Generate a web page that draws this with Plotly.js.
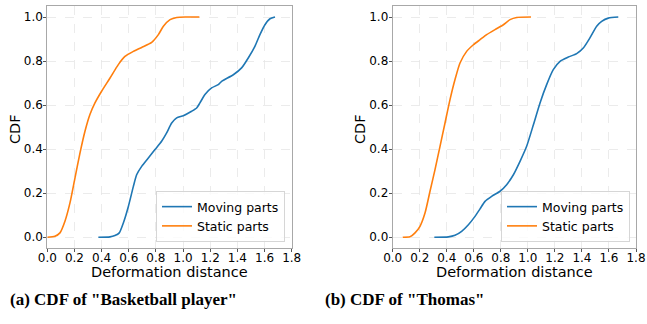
<!DOCTYPE html>
<html><head><meta charset="utf-8">
<script src="https://cdn.plot.ly/plotly-3.0.1.min.js"></script>
<style>html,body{margin:0;padding:0;background:#fff}#c{width:647px;height:324px}</style>
</head><body><div id="c"></div>
<script>
// (a) Basketball player
const aStaticX = [0,0.056,0.093,0.13,0.167,0.204,0.241,0.277,0.314,0.351,0.40,0.462,0.523,0.572,0.634,0.695,0.769,0.818,0.855,0.904,0.953,1.026,1.12];
const aStaticY = [0,0.005,0.02,0.073,0.156,0.27,0.383,0.48,0.557,0.61,0.663,0.723,0.784,0.821,0.844,0.862,0.885,0.92,0.958,0.988,0.998,1.0,1.0];
const aMovingX = [0.376,0.462,0.498,0.53,0.56,0.597,0.634,0.658,0.695,0.744,0.793,0.842,0.879,0.916,0.953,1.002,1.063,1.1,1.124,1.161,1.21,1.259,1.284,1.37,1.431,1.48,1.529,1.566,1.603,1.64,1.677];
const aMovingY = [0,0.002,0.008,0.02,0.065,0.14,0.231,0.284,0.322,0.36,0.398,0.436,0.474,0.519,0.542,0.552,0.572,0.587,0.61,0.648,0.678,0.693,0.708,0.738,0.769,0.814,0.867,0.92,0.965,0.992,1.0];
// (b) Thomas
const bStaticX = [0.074,0.128,0.165,0.202,0.239,0.276,0.313,0.35,0.387,0.424,0.461,0.498,0.547,0.597,0.646,0.695,0.757,0.819,0.868,0.917,1.023];
const bStaticY = [0,0.002,0.02,0.05,0.11,0.209,0.307,0.413,0.519,0.625,0.716,0.791,0.844,0.874,0.897,0.92,0.943,0.965,0.988,0.998,1.0];
const bMovingX = [0.308,0.412,0.461,0.51,0.56,0.609,0.646,0.683,0.732,0.794,0.843,0.893,0.942,0.991,1.041,1.09,1.139,1.188,1.238,1.299,1.361,1.41,1.459,1.509,1.546,1.595,1.669];
const bMovingY = [0,0.002,0.009,0.027,0.057,0.095,0.129,0.163,0.186,0.209,0.239,0.284,0.345,0.413,0.511,0.61,0.693,0.761,0.799,0.818,0.834,0.859,0.905,0.958,0.98,0.995,1.0];
const seriesNames = ["Moving parts","Static parts"];
const captions = ['(a) CDF of "Basketball player"','(b) CDF of "Thomas"'];
const xTitle = 'Deformation distance';
const yTitle = 'CDF';
const tickVals = [0,0.2,0.4,0.6,0.8,1.0,1.2,1.4,1.6,1.8];
const yTickVals = [0,0.2,0.4,0.6,0.8,1.0];

const blue = '#1f77b4', orange = '#ff7f0e';
const line = c => ({color:c, width:1.6, shape:'spline', smoothing:0.6});
const traces = [
 {x:aMovingX,y:aMovingY,name:seriesNames[0],mode:'lines',line:line(blue),xaxis:'x',yaxis:'y',legend:'legend'},
 {x:aStaticX,y:aStaticY,name:seriesNames[1],mode:'lines',line:line(orange),xaxis:'x',yaxis:'y',legend:'legend'},
 {x:bMovingX,y:bMovingY,name:seriesNames[0],mode:'lines',line:line(blue),xaxis:'x2',yaxis:'y2',legend:'legend2'},
 {x:bStaticX,y:bStaticY,name:seriesNames[1],mode:'lines',line:line(orange),xaxis:'x2',yaxis:'y2',legend:'legend2'}
];
const font = {family:'DejaVu Sans', size:12, color:'#000'};
const common = {showgrid:true, gridcolor:'#e6e6e6', griddash:'dash', gridwidth:0.8, zeroline:false,
  showline:true, linecolor:'#a8a8a8', linewidth:1, mirror:true,
  ticks:'outside', ticklen:3, tickcolor:'#555', tickfont:font};
function xax(dom, anchor){
 return Object.assign({domain:dom, anchor:anchor, range:[0,1.8], tickvals:tickVals, ticktext:tickVals.map(v=>v.toFixed(1)), ticklabelstandoff:-5}, common);
}
function yax(dom, anchor){
 return Object.assign({domain:dom, anchor:anchor, range:[-0.05,1.05], tickvals:yTickVals, ticktext:yTickVals.map(v=>v.toFixed(1)), ticklabelstandoff:-2}, common);
}
const yd = [1-248.3/324, 1-6/324];
const legStyle = (x)=>({x:x, y:1-242/324, xanchor:'right', yanchor:'bottom', bgcolor:'rgba(255,255,255,0.8)',
  bordercolor:'#d6d6d6', borderwidth:1, font:{family:'DejaVu Sans', size:12.5, color:'#000'}, tracegroupgap:0, itemwidth:30});
const tf = {family:'DejaVu Sans', size:14.5, color:'#000'};
const cf = {family:'Liberation Serif', size:17, color:'#000'};
const ann = (text,x,y,f,rot)=>({text:text, x:x/647, y:1-y/324, xref:'paper', yref:'paper', showarrow:false, xanchor:'center', yanchor:'middle', font:f, textangle:rot||0});
const layout = {
 width:647, height:324, margin:{l:0,r:0,t:0,b:0}, paper_bgcolor:'#fff', plot_bgcolor:'#fff', showlegend:true,
 xaxis:xax([47.3/647, 291.7/647],'y'), yaxis:yax(yd,'x'),
 xaxis2:xax([392.7/647, 636/647],'y2'), yaxis2:yax(yd,'x2'),
 legend:legStyle(285/647), legend2:legStyle(630/647),
 annotations:[
  ann(xTitle,169.5,272,tf), ann(xTitle,514.3,272,tf),
  ann(yTitle,15,129,tf,-90), ann(yTitle,360,129,tf,-90),
  ann('<b>'+captions[0]+'</b>',123,299,cf), ann('<b>'+captions[1]+'</b>',404,299,cf)
 ]
};
Plotly.newPlot('c', traces, layout, {staticPlot:true});
</script></body></html>
